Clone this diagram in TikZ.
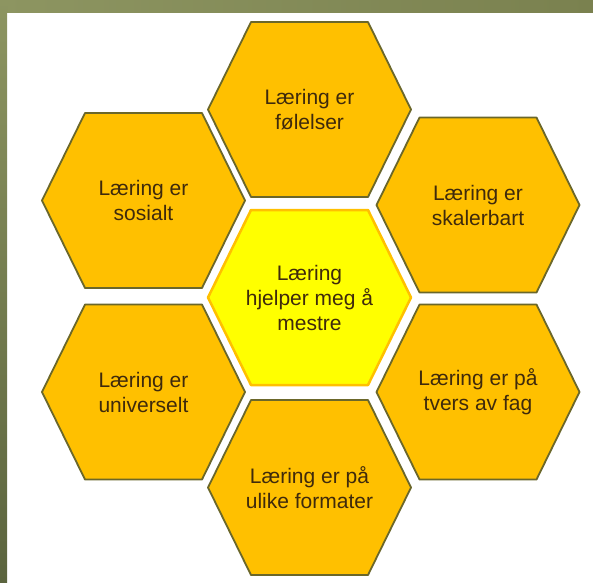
\documentclass[tikz,border=0pt]{standalone}
\usepackage{fontspec}
\setmainfont{Liberation Sans}

\definecolor{gold}{HTML}{FFC000}
\definecolor{rim}{HTML}{6B672A}
\definecolor{lemon}{HTML}{FFFF00}
\definecolor{ink}{HTML}{3F2A0C}
\definecolor{oliveA}{HTML}{8D9561}
\definecolor{oliveB}{HTML}{989E6C}
\definecolor{oliveC}{HTML}{7A814F}
\definecolor{oliveD}{HTML}{5B643E}

\begin{document}
\begin{tikzpicture}[x=1pt,y=-1pt,
	cell/.style={fill=gold, draw=rim, line width=1.8pt, line join=round},
	core/.style={fill=lemon, draw=gold, line width=2.5pt, line join=round},
	hexpath/.style={insert path={+(-101.5,0) -- +(-58.5,-87.5) -- +(58.5,-87.5) -- +(101.5,0) -- +(58.5,87.5) -- +(-58.5,87.5) -- cycle}},
	word/.style={align=center, text=ink, font=\fontsize{21}{25}\selectfont}]
	\useasboundingbox (0,0) rectangle (593,582);
	\fill[white] (0,0) rectangle (593,582);

	% frame
	\shade[left color=oliveA, middle color=oliveB, right color=oliveC] (0,0) rectangle (593,12);
	\shade[top color=oliveA, bottom color=oliveD] (0,0) rectangle (7,582);

	% outer cells
	\draw[cell] (309.5,109.5) [hexpath];
	\draw[cell] (143.5,200.5) [hexpath];
	\draw[cell] (478,205) [hexpath];
	\draw[cell] (143.5,392) [hexpath];
	\draw[cell] (478,392) [hexpath];
	\draw[cell] (309.5,487.5) [hexpath];

	% middle cell
	\draw[core] (309.5,297.5) [hexpath];

	\node[word] (folelser) at (309.5,109.5) {Læring er\\følelser};
	\node[word] (sosialt) at (143.5,200.5) {Læring er\\sosialt};
	\node[word] (skalerbart) at (478,205) {Læring er\\skalerbart};
	\node[word] (mestre) at (309.5,297.5) {Læring\\hjelper meg å\\mestre};
	\node[word] (universelt) at (143.5,392) {Læring er\\universelt};
	\node[word] (tvers) at (478,392) {Læring er på\\tvers av fag};
	\node[word] (formater) at (309.5,487.5) {Læring er på\\ulike formater};
\end{tikzpicture}
\end{document}
